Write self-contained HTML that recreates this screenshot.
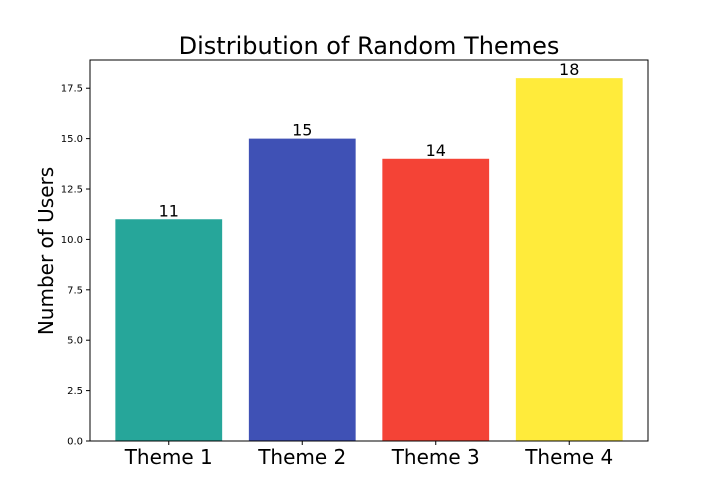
<!DOCTYPE html>
<html><head><meta charset="utf-8"><style>
body{margin:0;background:#fff;}
svg{display:block;font-family:"DejaVu Sans","Liberation Sans",sans-serif;}
</style></head><body>
<svg id="chart" width="720" height="504">
<text x="369" y="54" font-size="24" text-anchor="middle">Distribution of Random Themes</text>
<text transform="translate(53,251) rotate(-90)" font-size="20" text-anchor="middle">Number of Users</text>
<g id="bars"></g><g id="yticks"></g><g id="xticks"></g>
<rect x="90" y="60" width="558" height="381" fill="none" stroke="#000" stroke-width="1"/>
</svg>
<script>
const categories=["Theme 1","Theme 2","Theme 3","Theme 4"];
const values=[11,15,14,18];
const colors=["#26a69a","#3f51b5","#f44336","#ffeb3b"];
const yTicks=[0,2.5,5,7.5,10,12.5,15,17.5];
const L=90,R=648,T=60,B=441;
const ymax=Math.max(...values)*1.05;
const xmin=-0.59,xmax=categories.length-1+0.59;
const y=v=>B-(v/ymax)*(B-T);
const x=i=>L+(i-xmin)/(xmax-xmin)*(R-L);
const bw=0.8*(R-L)/(xmax-xmin);
const ns="http://www.w3.org/2000/svg";
const bars=document.getElementById('bars'),yt=document.getElementById('yticks'),xt=document.getElementById('xticks');
function mk(t,a,p){const e=document.createElementNS(ns,t);for(const k in a)e.setAttribute(k,a[k]);p.appendChild(e);return e;}
values.forEach((v,i)=>{
const r=mk('rect',{x:x(i)-bw/2,y:y(v),width:bw,height:B-y(v),fill:colors[i]},bars);


const t=mk('text',{x:x(i),y:y(v)-3,'font-size':16,'text-anchor':'middle'},bars);t.textContent=v;


mk('line',{x1:x(i),x2:x(i),y1:B,y2:B+4,stroke:'#000'},xt);
const c=mk('text',{x:x(i),y:B+23,'font-size':20,'text-anchor':'middle'},xt);c.textContent=categories[i];


});
yTicks.forEach(v=>{
mk('line',{x1:L-4,x2:L,y1:y(v),y2:y(v),stroke:'#000'},yt);
const t=mk('text',{x:L-7,y:y(v)+3.5,'font-size':10,'text-anchor':'end'},yt);t.textContent=v.toFixed(1);


});
</script>
</body></html>
